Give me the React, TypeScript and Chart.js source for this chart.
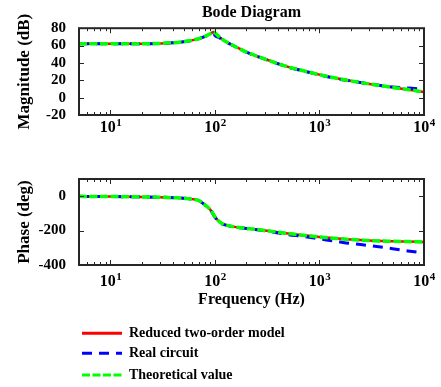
import React, { useEffect, useRef } from 'react';
import { Chart, registerables } from 'chart.js';

Chart.register(...registerables);

const FONT = "'Liberation Serif', 'Times New Roman', serif";

// Frequency points (Hz)
const freqHz = [5, 7, 10, 15, 20, 30, 40, 50, 60, 70, 80, 90, 97, 100, 110, 120, 150, 200, 300, 500, 700, 1000, 1500, 2000, 3000, 5000, 7000, 10000];

// Magnitude (dB)
const magReduced = [62, 62, 62, 62, 62.1, 62.5, 63.3, 64.5, 66, 68, 70.5, 73.5, 75.5, 74.5, 70, 66.5, 60, 52.5, 44.5, 35.5, 31, 26.5, 22, 19.3, 15.8, 11.8, 9.3, 6.5];
const magReal = [62, 62, 62, 62, 62, 62.4, 63.2, 64.3, 65.8, 67.8, 70.2, 73, 74.5, 71.5, 69, 66, 59.8, 52.3, 44.3, 35.2, 30.7, 26.2, 21.6, 19.3, 15.8, 12.3, 11.2, 9.5];
const magTheory = [62, 62, 62, 62, 62.1, 62.5, 63.3, 64.5, 66, 68, 70.5, 73.5, 75.5, 74.5, 70, 66.5, 60, 52.5, 44.5, 35.5, 31, 26.5, 22, 19.3, 15.8, 11.8, 9.3, 6.5];

// Phase (deg)
const phaseReduced = [-1, -1.5, -2, -3, -4, -6, -9, -12, -17, -25, -50, -78, -106, -120, -148, -162, -177, -187, -199, -217, -227, -237, -246, -252, -258, -262, -264, -266];
const phaseReal = [-1, -1.5, -2, -3, -4, -6, -9, -12, -17, -25, -51, -80, -109, -123, -152, -164, -178, -188, -201, -223, -234, -248, -264, -275, -287, -305, -318, -331];
const phaseTheory = [-1, -1.5, -2, -3, -4, -6, -9, -12, -17, -25, -50, -78, -106, -120, -148, -162, -177, -187, -199, -217, -227, -237, -246, -252, -258, -262, -264, -266];

const seriesLabels = ['Reduced two-order model', 'Real circuit', 'Theoretical value'];
const seriesColors = ['#ff0000', '#0000ff', '#00ff00'];

const isDecade = (v: number) => {
  const l = Math.log10(v);
  return Math.abs(l - Math.round(l)) < 1e-9;
};
const isIntMultiple = (v: number) => {
  const p = Math.pow(10, Math.floor(Math.log10(v) + 1e-9));
  const s = v / p;
  return Math.abs(s - Math.round(s)) < 1e-6;
};

function makeDatasets(red: number[], blue: number[], green: number[]) {
  const pts = (arr: number[]) => freqHz.map((f, i) => ({ x: f, y: arr[i] }));
  return [
    {
      label: seriesLabels[0], data: pts(red), borderColor: seriesColors[0], backgroundColor: seriesColors[0],
      borderWidth: 2.5, borderDash: [], order: 2,
    },
    {
      label: seriesLabels[1], data: pts(blue), borderColor: seriesColors[1], backgroundColor: seriesColors[1],
      borderWidth: 3, borderDash: [10, 7], order: 1,
    },
    {
      label: seriesLabels[2], data: pts(green), borderColor: seriesColors[2], backgroundColor: seriesColors[2],
      borderWidth: 3.5, borderDash: [8, 2.5], order: 0,
    },
  ];
}

const framePlugin = (labelBaseline: number) => ({
  id: 'frame',
  afterDraw(chart: any) {
    const { ctx, chartArea: a } = chart;
    const xs = chart.scales.x;
    const ys = chart.scales.y;
    ctx.save();
    ctx.strokeStyle = '#262626';
    ctx.lineWidth = 1;
    ctx.setLineDash([]);
    ctx.beginPath();
    xs.ticks.forEach((t: any) => {
      if (!isIntMultiple(t.value)) return;
      const px = Math.round(xs.getPixelForValue(t.value)) + 0.5;
      if (px < a.left + 2 || px > a.right - 2) return;
      const len = isDecade(t.value) ? 5 : 3;
      ctx.moveTo(px, a.bottom); ctx.lineTo(px, a.bottom - len);
      ctx.moveTo(px, a.top); ctx.lineTo(px, a.top + len);
    });
    ys.ticks.forEach((t: any) => {
      const py = Math.round(ys.getPixelForValue(t.value)) + 0.5;
      if (py < a.top + 2 || py > a.bottom - 2) return;
      ctx.moveTo(a.left, py); ctx.lineTo(a.left + 5, py);
      ctx.moveTo(a.right, py); ctx.lineTo(a.right - 5, py);
    });
    ctx.stroke();
    ctx.lineWidth = 2;
    ctx.strokeRect(a.left, a.top, a.right - a.left, a.bottom - a.top);

    ctx.fillStyle = '#000';
    ctx.textAlign = 'left';
    ctx.textBaseline = 'alphabetic';
    xs.ticks.forEach((t: any) => {
      if (!isDecade(t.value)) return;
      const e = String(Math.round(Math.log10(t.value)));
      ctx.font = `bold 16px ${FONT}`;
      const w1 = ctx.measureText('10').width;
      ctx.font = `bold 11px ${FONT}`;
      const w2 = ctx.measureText(e).width;
      const px = xs.getPixelForValue(t.value);
      const x0 = px - (w1 + w2) / 2;
      const by = a.bottom + labelBaseline;
      ctx.font = `bold 16px ${FONT}`;
      ctx.fillText('10', x0, by);
      ctx.font = `bold 11px ${FONT}`;
      ctx.fillText(e, x0 + w1 + 0.5, by - 5.5);
    });
    ctx.restore();
  },
});

const legendPlugin = {
  id: 'customLegend',
  afterDraw(chart: any) {
    const { ctx } = chart;
    const rowsY = [183.3, 203.3, 225];
    ctx.save();
    chart.data.datasets.forEach((ds: any, i: number) => {
      const y = rowsY[i];
      ctx.beginPath();
      ctx.strokeStyle = ds.borderColor;
      ctx.lineWidth = 3;
      ctx.setLineDash(ds.borderDash || []);
      ctx.moveTo(82, y);
      ctx.lineTo(122, y);
      ctx.stroke();
      ctx.setLineDash([]);
      ctx.fillStyle = '#000';
      ctx.font = `bold 14px ${FONT}`;
      ctx.textAlign = 'left';
      ctx.textBaseline = 'middle';
      ctx.fillText(ds.label, 129, y + 0.5);
    });
    ctx.restore();
  },
};

function baseOptions(opts: {
  yMin: number; yMax: number; yStep: number; yTitle: string; xHeight: number; xTitle?: string; padding: any; title?: string;
}) {
  return {
    responsive: false,
    animation: false as const,
    devicePixelRatio: 1,
    layout: { padding: opts.padding },
    elements: { point: { radius: 0 }, line: { tension: 0, cubicInterpolationMode: 'monotone' as const } },
    plugins: {
      legend: { display: false },
      tooltip: { enabled: false },
      title: opts.title
        ? {
            display: true, text: opts.title, fullSize: false, color: '#000',
            font: { family: FONT, size: 16, weight: 'bold' as const }, padding: { top: 3, bottom: 6 },
          }
        : { display: false },
    },
    scales: {
      x: {
        type: 'logarithmic' as const,
        min: 5, max: 10000,
        grid: { display: false }, border: { display: false },
        ticks: { display: false },
        title: opts.xTitle
          ? { display: true, text: opts.xTitle, color: '#000', font: { family: FONT, size: 16, weight: 'bold' as const }, padding: { top: 0, bottom: 6 } }
          : { display: false },
        afterFit: (s: any) => { s.height = opts.xHeight; },
      },
      y: {
        type: 'linear' as const,
        min: opts.yMin, max: opts.yMax,
        grid: { display: false }, border: { display: false },
        ticks: { stepSize: opts.yStep, autoSkip: false, color: '#000', padding: 5, font: { family: FONT, size: 15, weight: 'bold' as const } },
        afterBuildTicks: (s: any) => { s.ticks = s.ticks.filter((t: any) => Math.abs(t.value % opts.yStep) < 1e-9); },
        title: { display: true, text: opts.yTitle, color: '#000', font: { family: FONT, size: 17, weight: 'bold' as const }, padding: { top: 14, bottom: 0 } },
        afterFit: (s: any) => { s.width = 79; },
      },
    },
  };
}

export default function App() {
  const magRef = useRef<HTMLCanvasElement>(null);
  const phRef = useRef<HTMLCanvasElement>(null);

  useEffect(() => {
    const c1 = new Chart(magRef.current!, {
      type: 'line',
      data: { datasets: makeDatasets(magReduced, magReal, magTheory) as any },
      options: baseOptions({
        yMin: -20, yMax: 80, yStep: 20, yTitle: 'Magnitude (dB)', xHeight: 25,
        padding: { left: 0, right: 17, top: 0, bottom: 0 }, title: 'Bode Diagram',
      }) as any,
      plugins: [framePlugin(16.5)],
    });
    const c2 = new Chart(phRef.current!, {
      type: 'line',
      data: { datasets: makeDatasets(phaseReduced, phaseReal, phaseTheory) as any },
      options: baseOptions({
        yMin: -400, yMax: 100, yStep: 200, yTitle: 'Phase (deg)', xHeight: 50, xTitle: 'Frequency (Hz)',
        padding: { left: 0, right: 17, top: 29, bottom: 72 },
      }) as any,
      plugins: [framePlugin(20.5), legendPlugin],
    });
    return () => { c1.destroy(); c2.destroy(); };
  }, []);

  return (
    <div style={{ position: 'fixed', left: 0, top: 0, width: 441, height: 387, background: '#fff', overflow: 'hidden' }}>
      <canvas ref={magRef} width={441} height={140} style={{ position: 'absolute', left: 0, top: 0, width: 441, height: 140 }} />
      <canvas ref={phRef} width={441} height={237} style={{ position: 'absolute', left: 0, top: 150, width: 441, height: 237 }} />
    </div>
  );
}
